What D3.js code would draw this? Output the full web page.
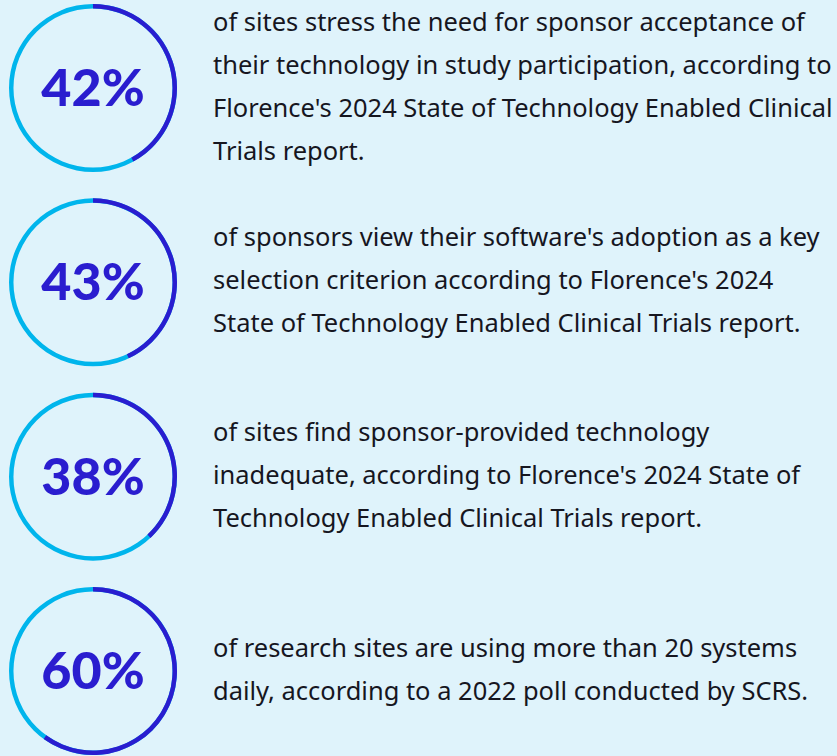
<!DOCTYPE html>
<html>
<head>
<meta charset="utf-8">
<script src="https://cdn.jsdelivr.net/npm/d3@7"></script>
<style>
  html, body { margin: 0; padding: 0; background: #dff3fb; }
  svg { display: block; }
</style>
</head>
<body>
<script>
// Chart values
const percents = [42, 43, 38, 60]
const descriptions = [
	[
		'of sites stress the need for sponsor acceptance of',
		'their technology in study participation, according to',
		"Florence's 2024 State of Technology Enabled Clinical",
		'Trials report.',
	],
	[
		"of sponsors view their software's adoption as a key",
		"selection criterion according to Florence's 2024",
		'State of Technology Enabled Clinical Trials report.',
	],
	[
		'of sites find sponsor-provided technology',
		"inadequate, according to Florence's 2024 State of",
		'Technology Enabled Clinical Trials report.',
	],
	[
		'of research sites are using more than 20 systems',
		'daily, according to a 2022 poll conducted by SCRS.',
	],
]

const width = 837
const height = 756
const dark = '#2a1dcf'
const light = '#00b5ec'

const svg = d3.select('body').append('svg').attr('width', width).attr('height', height)

svg.append('rect').attr('width', width).attr('height', height).attr('fill', '#dff3fb')

// Row positions
const y = d3.scalePoint().domain(d3.range(percents.length)).range([88, 671])
// Angle scale for the rings
const angle = d3.scaleLinear().domain([0, 100]).range([0, 2 * Math.PI])

const arc = d3.arc().innerRadius(79.5).outerRadius(84)

const rows = svg
	.selectAll('g.row')
	.data(percents)
	.enter()
	.append('g')
	.attr('class', 'row')
	.attr('transform', (d, i) => 'translate(0,' + y(i) + ')')

const ring = rows.append('g').attr('transform', 'translate(93,0)')

ring.append('path')
	.attr('d', arc({ startAngle: 0, endAngle: 2 * Math.PI }))
	.attr('fill', light)

ring.append('path')
	.attr('d', d => arc({ startAngle: 0, endAngle: angle(d) }))
	.attr('fill', dark)

ring.append('text')
	.attr('text-anchor', 'middle')
	.attr('y', 18)
	.attr('font-family', 'Lato, sans-serif')
	.attr('font-weight', 900)
	.attr('font-size', 52)
	.attr('fill', dark)
	.text(d => d + '%')

// Description text, sized so the longest line spans about 620px
const lineHeight = 43
const probe = svg.append('text')
	.attr('font-family', "'Noto Sans', sans-serif")
	.attr('font-size', 20)
	.text(descriptions[0][2])
const fontSize = (20 * 620) / probe.node().getComputedTextLength()
probe.remove()

rows.append('text')
	.attr('font-family', "'Noto Sans', sans-serif")
	.attr('font-size', fontSize)
	.attr('fill', '#16161f')
	.each(function (d, i) {
		const lines = descriptions[i]
		const first = 7 - ((lines.length - 1) * lineHeight) / 2
		d3.select(this)
			.selectAll('tspan')
			.data(lines)
			.enter()
			.append('tspan')
			.attr('x', 213)
			.attr('y', (l, j) => first + j * lineHeight)
			.text(l => l)
	})
</script>
</body>
</html>
